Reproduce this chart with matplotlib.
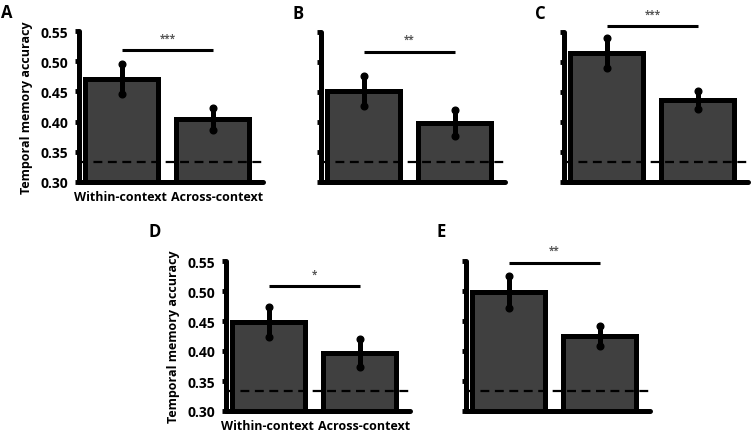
import matplotlib
matplotlib.use('Agg')
import matplotlib.pyplot as plt

plt.rcParams['font.family'] = ['Open Sans', 'DejaVu Sans']
plt.rcParams['font.weight'] = 'bold'

# data
panels = ['A', 'B', 'C', 'D', 'E']
categories = ['Within-context', 'Across-context']
means = {'A': [0.470, 0.404], 'B': [0.452, 0.398], 'C': [0.515, 0.437],
         'D': [0.448, 0.397], 'E': [0.498, 0.425]}
sems = {'A': [0.025, 0.018], 'B': [0.0245, 0.022], 'C': [0.025, 0.0155],
        'D': [0.025, 0.0235], 'E': [0.0265, 0.017]}
stars = {'A': '***', 'B': '**', 'C': '***', 'D': '*', 'E': '**'}
sig_y = {'A': 0.518, 'B': 0.517, 'C': 0.560, 'D': 0.508, 'E': 0.547}
chance = 1 / 3
yticks = [0.30, 0.35, 0.40, 0.45, 0.50, 0.55]

W, H = 752, 435
# spine x, top y, bottom y (pixels)
boxes = {'A': (79, 32, 183), 'B': (321, 33, 183), 'C': (564, 33, 183),
         'D': (226, 262, 412), 'E': (466, 262, 412)}
# panel letter position (pixels, top-left)
letter_pos = {'A': (1, 4), 'B': (293, 5), 'C': (535, 5),
              'D': (148, 223), 'E': (437, 223)}
labeled = ['A', 'D']

fig = plt.figure(figsize=(W / 100, H / 100), dpi=100)

for p in panels:
    x0, top, bot = boxes[p]
    ax = fig.add_axes([x0 / W, (H - bot) / H, 184 / W, (bot - top) / H])
    m = means[p]
    s = sems[p]
    xs = [0, 1]
    ax.bar(xs, m, width=0.8, color='#404040', edgecolor='black', linewidth=3.6,
           zorder=2)
    ax.errorbar(xs, m, yerr=s, fmt='none', ecolor='black', elinewidth=3.6,
                capsize=0, zorder=3)
    lo = [v - e for v, e in zip(m, s)]
    hi = [v + e for v, e in zip(m, s)]
    ax.plot(xs, lo, 'o', color='black', ms=4.8, zorder=4)
    ax.plot(xs, hi, 'o', color='black', ms=4.8, zorder=4)
    ax.axhline(chance, color='black', ls='--', lw=1.6, dashes=(4, 2.5), zorder=5)
    ax.plot(xs, [sig_y[p]] * 2, color='black', lw=2.2, clip_on=False,
            solid_capstyle='butt')
    ax.text(0.5, sig_y[p] + 0.011, stars[p], ha='center', va='bottom',
            fontsize=7, color='#555555', clip_on=False)

    ax.set_xlim(-0.47, 1.55)
    ax.set_ylim(0.30, 0.55)
    ax.set_yticks(yticks)
    for side in ['top', 'right']:
        ax.spines[side].set_visible(False)
    for side in ['left', 'bottom']:
        ax.spines[side].set_linewidth(3.6)
        ax.spines[side].set_capstyle('round')
    ax.tick_params(axis='y', length=3, width=3.5, pad=5)
    ax.tick_params(axis='x', length=0, pad=6)
    ax.set_xticks([-0.02, 1.045])
    if p in labeled:
        ax.set_yticklabels(['%.2f' % t for t in yticks], fontsize=10,
                           fontweight='bold')
        ax.set_xticklabels(categories, fontsize=9, fontweight='bold')
        ax.set_ylabel('Temporal memory accuracy', fontsize=9,
                      fontweight='bold', labelpad=5)
    else:
        ax.set_yticklabels([])
        ax.set_xticklabels([])
    lx, ly = letter_pos[p]
    fig.text(lx / W, 1 - ly / H, p, fontsize=12, fontweight='bold',
             ha='left', va='top')

fig.savefig('out.png', dpi=100)
